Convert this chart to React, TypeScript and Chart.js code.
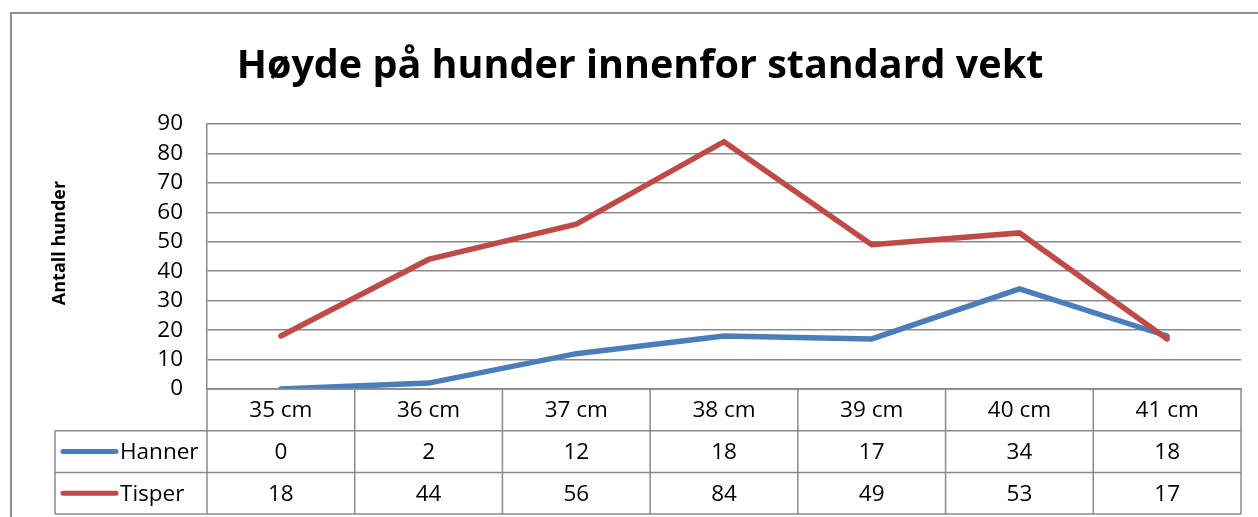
import React, { useEffect, useRef } from "react";
import { Chart, registerables } from "chart.js";

Chart.register(...registerables);

const chartTitle = "Høyde på hunder innenfor standard vekt";
const yAxisTitle = "Antall hunder";
const categories = ["35 cm", "36 cm", "37 cm", "38 cm", "39 cm", "40 cm", "41 cm"];
const seriesNames = ["Hanner", "Tisper"];
const hanner = [0, 2, 12, 18, 17, 34, 18];
const tisper = [18, 44, 56, 84, 49, 53, 17];
const yMin = 0;
const yMax = 90;
const yStep = 10;

const BLUE = "#4A7EBB";
const RED = "#BE4B48";
const GRID = "#8a8a8a";
const FONT = "'Open Sans', sans-serif";

const tablePlugin = {
  id: "excelTable",
  beforeDraw(chart: any) {
    const ctx = chart.ctx;
    ctx.save();
    ctx.fillStyle = "#ffffff";
    ctx.fillRect(0, 0, chart.width, chart.height);
    ctx.strokeStyle = "#8f8f8f";
    ctx.lineWidth = 2;
    ctx.strokeRect(11, 13, chart.width + 20, chart.height + 20);
    ctx.fillStyle = "#000";
    ctx.font = `bold 39.5px ${FONT}`;
    ctx.textAlign = "center";
    ctx.textBaseline = "alphabetic";
    ctx.fillText(chartTitle, 640, 78);
    ctx.save();
    ctx.translate(60, 243);
    ctx.rotate(-Math.PI / 2);
    ctx.font = `bold 18px ${FONT}`;
    ctx.textBaseline = "middle";
    ctx.fillText(yAxisTitle, 0, 0);
    ctx.restore();
    ctx.restore();
  },
  afterDraw(chart: any) {
    const ctx = chart.ctx;
    const xs = chart.scales.x;
    const area = chart.chartArea;
    const step = xs.getPixelForValue(1) - xs.getPixelForValue(0);
    const left0 = xs.getPixelForValue(0) - step / 2;
    const right = xs.getPixelForValue(categories.length - 1) + step / 2;
    const rowH = 41.7;
    const top = area.bottom;
    const tableLeft = 55;
    const bottom = top + rowH * 3;
    ctx.save();
    ctx.strokeStyle = GRID;
    ctx.lineWidth = 1.5;
    ctx.beginPath();
    ctx.moveTo(left0, top);
    ctx.lineTo(right, top);
    for (let r = 1; r <= 3; r++) {
      const y = top + rowH * r;
      ctx.moveTo(tableLeft, y);
      ctx.lineTo(right, y);
    }
    for (let i = 0; i <= categories.length; i++) {
      const x = left0 + step * i;
      ctx.moveTo(x, top);
      ctx.lineTo(x, bottom);
    }
    ctx.moveTo(tableLeft, top + rowH);
    ctx.lineTo(tableLeft, bottom);
    ctx.stroke();

    ctx.fillStyle = "#000";
    ctx.font = `22.5px ${FONT}`;
    ctx.textAlign = "center";
    ctx.textBaseline = "middle";
    categories.forEach((c, i) => {
      ctx.fillText(c, xs.getPixelForValue(i), top + rowH / 2 + 1);
    });
    const sets = chart.data.datasets;
    sets.forEach((ds: any, r: number) => {
      const yc = top + rowH * (r + 1) + rowH / 2;
      ds.data.forEach((v: number, i: number) => {
        ctx.fillText(String(v), xs.getPixelForValue(i), yc + 1);
      });
      ctx.save();
      ctx.strokeStyle = ds.borderColor;
      ctx.lineWidth = 5;
      ctx.lineCap = "round";
      ctx.beginPath();
      ctx.moveTo(63, yc);
      ctx.lineTo(116, yc);
      ctx.stroke();
      ctx.restore();
      ctx.textAlign = "left";
      ctx.fillText(ds.label, 120, yc + 1);
      ctx.textAlign = "center";
    });
    ctx.restore();
  },
};

export default function App() {
  const ref = useRef<HTMLCanvasElement | null>(null);
  useEffect(() => {
    if (!ref.current) return;
    const chart = new Chart(ref.current, {
      type: "line",
      data: {
        labels: categories,
        datasets: [
          {
            label: seriesNames[0],
            data: hanner,
            borderColor: BLUE,
            backgroundColor: BLUE,
            borderWidth: 5.5,
            pointRadius: 0,
            borderCapStyle: "round",
            borderJoinStyle: "miter",
            tension: 0,
            order: 1,
          },
          {
            label: seriesNames[1],
            data: tisper,
            borderColor: RED,
            backgroundColor: RED,
            borderWidth: 5.5,
            pointRadius: 0,
            borderCapStyle: "round",
            borderJoinStyle: "miter",
            tension: 0,
            order: 0,
          },
        ],
      },
      options: {
        animation: false,
        responsive: true,
        maintainAspectRatio: false,
        layout: { padding: { left: 10, top: 124, right: 17, bottom: 0 } },
        plugins: {
          legend: { display: false },
          title: { display: false },
          tooltip: { enabled: false },
        },
        scales: {
          x: {
            offset: true,
            grid: { display: false, drawTicks: false },
            border: { display: true, color: GRID, width: 1.5 },
            ticks: { display: false },
            afterFit(scale: any) {
              scale.height = 128;
            },
          },
          y: {
            min: yMin,
            max: yMax,
            grid: { color: GRID, lineWidth: 1.5, drawTicks: false },
            border: { display: true, color: GRID, width: 1.5 },
            ticks: {
              stepSize: yStep,
              autoSkip: false,
              padding: 24,
              color: "#000",
              font: { family: FONT, size: 22.5 },
            },
            afterFit(scale: any) {
              scale.width = 197;
            },
          },
        },
      },
      plugins: [tablePlugin],
    });
    return () => chart.destroy();
  }, []);
  return (
    <div style={{ position: "fixed", left: 0, top: 0, width: 1258, height: 517 }}>
      <canvas ref={ref} />
    </div>
  );
}
